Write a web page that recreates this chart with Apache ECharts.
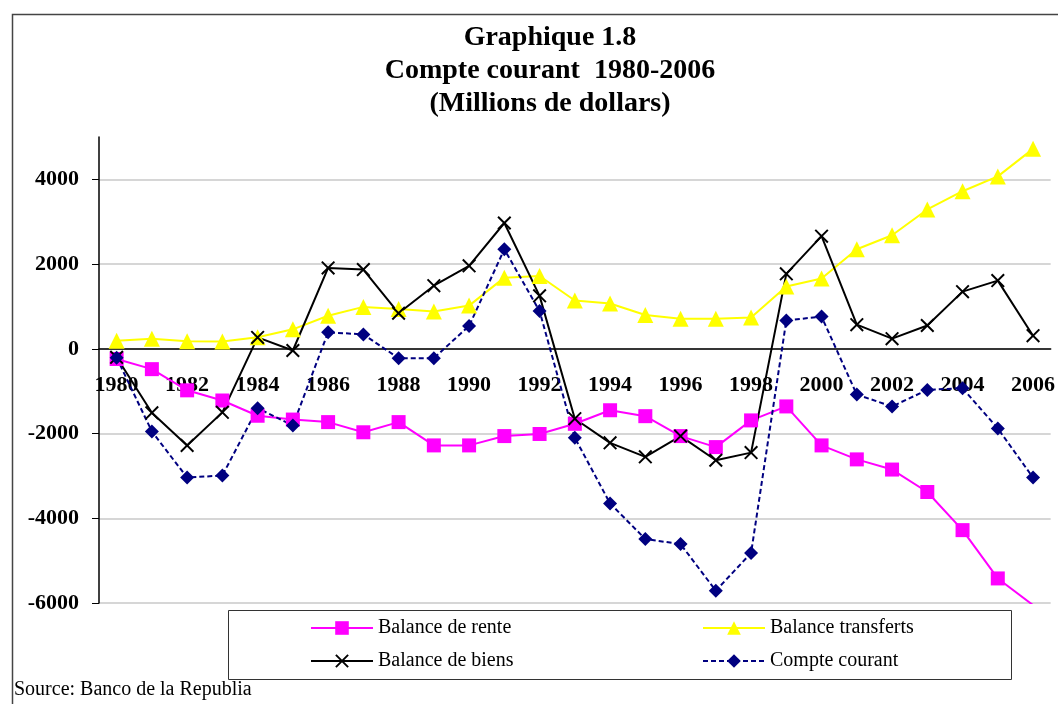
<!DOCTYPE html>
<html>
<head>
<meta charset="utf-8">
<title>Compte courant 1980-2006</title>
<script src="https://cdn.jsdelivr.net/npm/echarts@6/dist/echarts.min.js"></script>
<style>
  html, body { margin: 0; padding: 0; background: #fff; }
  #chart { width: 1058px; height: 704px; }
</style>
</head>
<body>
<div id="chart"></div>
<script>
// années
var years = ["1980", "1981", "1982", "1983", "1984", "1985", "1986", "1987", "1988",
  "1989", "1990", "1991", "1992", "1993", "1994", "1995", "1996", "1997", "1998",
  "1999", "2000", "2001", "2002", "2003", "2004", "2005", "2006"];

// millions de dollars
var balanceRente = [-240, -480, -980, -1220, -1580, -1670, -1730, -1970, -1730, -2280,
  -2280, -2060, -2010, -1770, -1450, -1590, -2060, -2320, -1690, -1360, -2280, -2610,
  -2850, -3380, -4280, -5420, -6050];
var balanceTransferts = [190, 235, 180, 170, 275, 460, 780, 990, 940, 880, 1020, 1680,
  1720, 1140, 1070, 800, 710, 710, 740, 1470, 1660, 2350, 2680, 3290, 3720, 4070, 4720];
var balanceBiens = [-200, -1510, -2280, -1500, 270, -40, 1910, 1870, 840, 1490, 1960,
  2970, 1250, -1650, -2220, -2550, -2060, -2630, -2450, 1770, 2660, 570, 240, 550, 1350,
  1610, 310];
var compteCourant = [-210, -1950, -3040, -2990, -1400, -1810, 390, 340, -220, -220, 540,
  2350, 890, -2100, -3650, -4490, -4610, -5710, -4820, 670, 760, -1080, -1360, -970,
  -930, -1880, -3040];

var yTicks = { min: -6000, max: 5000, interval: 2000 };

var serif = "Liberation Serif, Times New Roman, serif";
var crossPath = "path://M0,1L1,0L10,9L9,10ZM9,0L10,1L1,10L0,9Z";

var chart = echarts.init(document.getElementById("chart"));

function legendAt(name, left, top) {
  return {
    data: [name],
    left: left,
    top: top,
    itemWidth: 62,
    itemHeight: 17,
    itemGap: 0,
    padding: 0,
    selectedMode: false,
    textStyle: { fontFamily: serif, fontSize: 20, color: "#000" }
  };
}

var option = {
  animation: false,
  backgroundColor: "#fff",
  title: {
    text: "Graphique 1.8\nCompte courant  1980-2006\n(Millions de dollars)",
    left: 545,
    top: 16,
    textAlign: "center",
    textStyle: {
      fontFamily: serif,
      fontSize: 28,
      fontWeight: "bold",
      color: "#000",
      lineHeight: 33
    }
  },
  legend: [
    legendAt("Balance de rente", 310, 618),
    legendAt("Balance transferts", 702, 618),
    legendAt("Balance de biens", 310, 651),
    legendAt("Compte courant", 702, 651)
  ],
  grid: { left: 99, right: 5, top: 137, bottom: 101 },
  xAxis: {
    type: "category",
    data: years,
    boundaryGap: true,
    // l'axe passe par zéro : on le remonte depuis le bas de la grille
    offset: -254,
    axisLine: { onZero: false, lineStyle: { color: "#000", width: 1.5 } },
    axisTick: { interval: 0, length: 6, lineStyle: { color: "#000" } },
    axisLabel: {
      interval: 1,
      margin: 25,
      fontFamily: serif,
      fontSize: 22,
      fontWeight: "bold",
      color: "#000"
    },
    splitLine: { show: false }
  },
  yAxis: {
    type: "value",
    min: yTicks.min,
    max: yTicks.max,
    interval: yTicks.interval,
    axisLine: { show: true, lineStyle: { color: "#000", width: 1.5 } },
    axisTick: { show: true, length: 7, lineStyle: { color: "#000" } },
    axisLabel: {
      margin: 20,
      showMaxLabel: false,
      fontFamily: serif,
      fontSize: 22,
      fontWeight: "bold",
      color: "#000",
      formatter: function (v) { return String(v); }
    },
    splitLine: { show: true, showMaxLine: false, lineStyle: { color: "#c8c8c8", width: 1.5 } }
  },
  series: [
    {
      name: "Balance de rente",
      type: "line",
      data: balanceRente,
      symbol: "rect",
      symbolSize: 14,
      lineStyle: { color: "#ff00ff", width: 2 },
      itemStyle: { color: "#ff00ff" }
    },
    {
      name: "Balance transferts",
      type: "line",
      data: balanceTransferts,
      symbol: "triangle",
      symbolSize: 16,
      lineStyle: { color: "#ffff00", width: 2 },
      itemStyle: { color: "#ffff00" }
    },
    {
      name: "Balance de biens",
      type: "line",
      data: balanceBiens,
      symbol: crossPath,
      symbolSize: 14,
      lineStyle: { color: "#000", width: 2 },
      itemStyle: { color: "#000" }
    },
    {
      name: "Compte courant",
      type: "line",
      data: compteCourant,
      symbol: "diamond",
      symbolSize: 14,
      lineStyle: { color: "#000080", width: 2, type: [5, 3] },
      itemStyle: { color: "#000080" }
    }
  ],
  graphic: [
    {
      type: "rect",
      left: 10,
      top: 12,
      shape: { width: 1060, height: 710 },
      style: { fill: null, stroke: "#444", lineWidth: 1.5 },
      z: -1
    },
    {
      type: "rect",
      left: 226,
      top: 608,
      shape: { width: 783, height: 69 },
      style: { fill: null, stroke: "#333", lineWidth: 1 },
      z: -1
    },
    {
      type: "text",
      left: 14,
      top: 680,
      style: {
        text: "Source: Banco de la Republia",
        fontFamily: serif,
        fontSize: 20,
        fill: "#000"
      }
    }
  ]
};

chart.setOption(option);
</script>
</body>
</html>
